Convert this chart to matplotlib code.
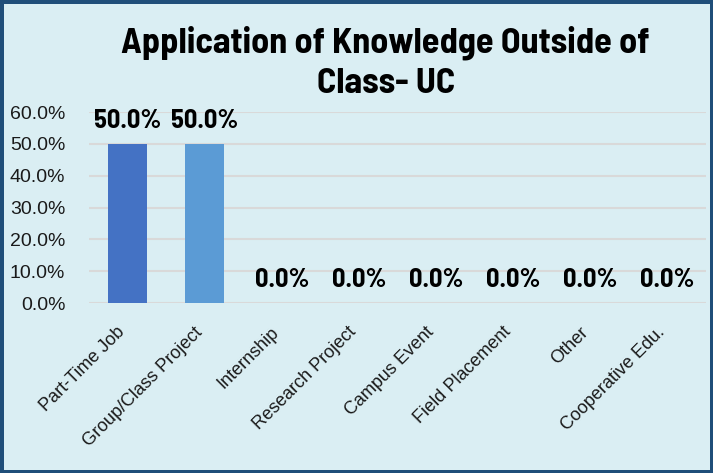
import matplotlib
matplotlib.use("Agg")
import matplotlib.pyplot as plt
from matplotlib.ticker import PercentFormatter
from matplotlib.transforms import ScaledTranslation

categories = ["Part-Time Job", "Group/Class Project", "Internship", "Research Project",
              "Campus Event", "Field Placement", "Other", "Cooperative Edu."]
values = [0.50, 0.50, 0.0, 0.0, 0.0, 0.0, 0.0, 0.0]
bar_colors = ["#4472C4", "#5B9BD5", "#A5A5A5", "#FFC000", "#70AD47", "#264478", "#9E480E", "#636363"]
y_ticks = [0.0, 0.1, 0.2, 0.3, 0.4, 0.5, 0.6]
title = "Application of Knowledge Outside of\nClass- UC"

bg = "#DAEEF3"
narrow = ["Barlow Semi Condensed", "Liberation Sans"]
regular = ["Liberation Sans", "DejaVu Sans"]

fig = plt.figure(figsize=(7.13, 4.73), dpi=100, facecolor=bg)
fig.patch.set_edgecolor("#1F4E79")
fig.patch.set_linewidth(5)

ax = fig.add_axes([0.1248, 0.3594, 0.8654, 0.4038])
ax.set_facecolor(bg)

x = list(range(len(categories)))
ax.bar(x, values, width=0.51, color=bar_colors, zorder=3)
ax.set_xlim(-0.5, len(categories) - 0.5)
ax.set_ylim(0, 0.6)
ax.set_yticks(y_ticks)
ax.yaxis.set_major_formatter(PercentFormatter(1.0, decimals=1))
ax.grid(axis="y", color="#D9D9D9", linewidth=1.5, zorder=0)
ax.set_axisbelow(True)
for s in ax.spines.values():
    s.set_visible(False)
ax.tick_params(axis="both", length=0)
ax.tick_params(axis="y", pad=17)

for lbl in ax.get_yticklabels():
    lbl.set_fontfamily(regular)
    lbl.set_fontsize(14)
    lbl.set_color("#1a1a1a")

ax.set_xticks(x)
ax.set_xticklabels(categories, rotation=45, ha="right", va="center",
                   rotation_mode="anchor", fontsize=13, family=regular, color="#1a1a1a")
ax.tick_params(axis="x", pad=12)
shift = ScaledTranslation(-0.05, -0.10, fig.dpi_scale_trans)
for lbl in ax.get_xticklabels():
    lbl.set_transform(lbl.get_transform() + shift)

for xi, v in zip(x, values):
    ax.annotate(f"{v * 100:.1f}%", (xi, v), xytext=(0, 11.5), textcoords="offset points",
                ha="center", va="baseline", fontsize=19, fontweight="bold", family=narrow,
                color="#000000")

fig.text(0.541, 0.803, title, ha="center", va="baseline", fontsize=26, fontweight="bold",
         family=narrow, color="#000000", linespacing=1.34)

fig.savefig("out.png", dpi=100, facecolor=bg, edgecolor=fig.patch.get_edgecolor())
